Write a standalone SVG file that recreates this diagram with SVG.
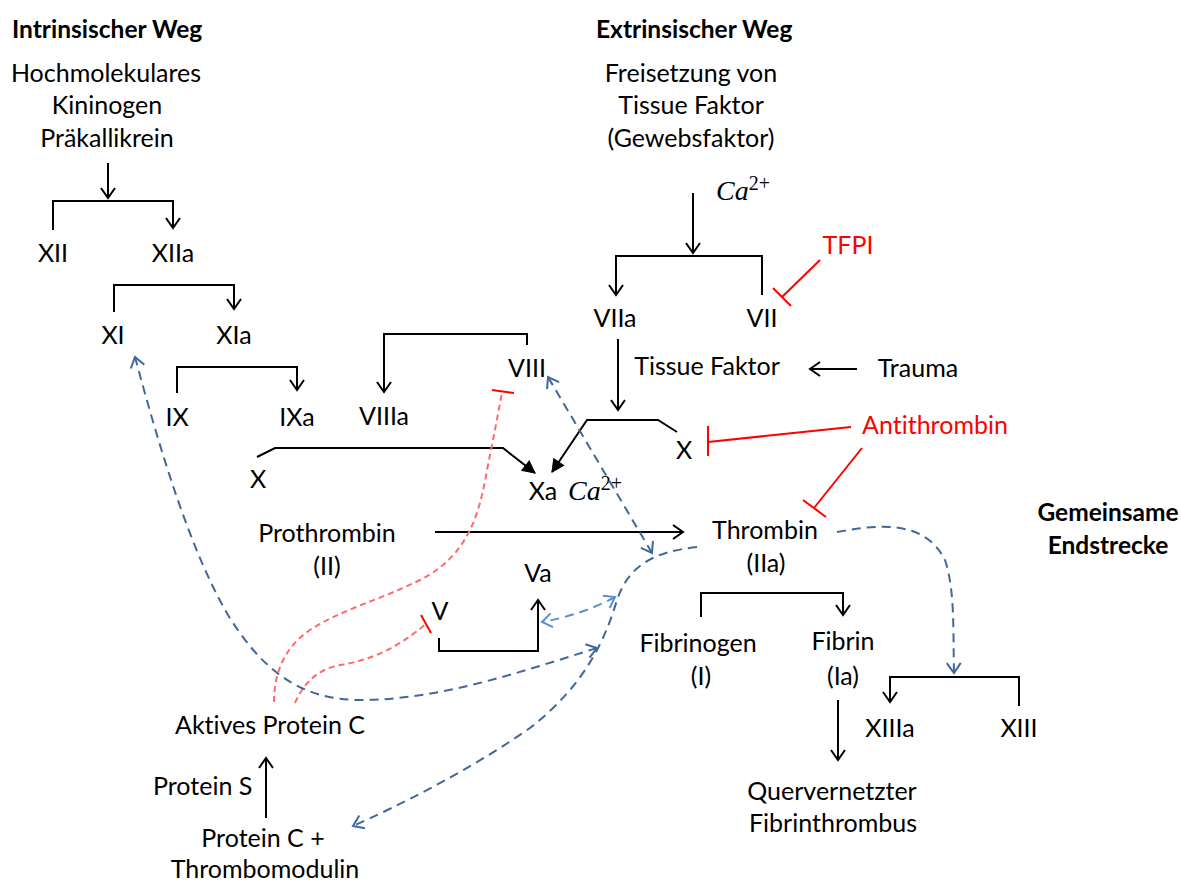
<svg xmlns="http://www.w3.org/2000/svg" width="1181" height="882" viewBox="0 0 1181 882">
<style>
text{font-family:Lato,"Open Sans","Liberation Sans",sans-serif;font-size:25px;fill:#000;font-variant-ligatures:none}
.c{text-anchor:middle}
.h{font-weight:bold;font-size:24.5px}
.red{fill:#ff0000}
.ca{font-family:"Liberation Serif","DejaVu Serif",serif;font-style:italic;font-size:28px}
.sup{font-family:"Liberation Serif","DejaVu Serif",serif;font-style:normal;font-size:20px}
.k{fill:none;stroke:#000;stroke-width:2}
.inh{fill:none;stroke:#ff0000;stroke-width:2}
.rd{fill:none;stroke:#ff6b6b;stroke-width:2;stroke-dasharray:6 4}
.bd{fill:none;stroke:#41689a;stroke-width:2;stroke-dasharray:9 6}
.lb{fill:none;stroke:#5b8fd0;stroke-width:2;stroke-dasharray:9 6}
</style>
<defs>
<marker id="ak" viewBox="-13 -9 15 18" refX="0" refY="0" markerWidth="15" markerHeight="18" markerUnits="userSpaceOnUse" orient="auto"><path d="M-10,-7 L0,0 L-10,7" fill="none" stroke="#000" stroke-width="2"/></marker>
<marker id="akf" viewBox="-13 -9 15 18" refX="0" refY="0" markerWidth="15" markerHeight="18" markerUnits="userSpaceOnUse" orient="auto"><path d="M-12,-6 L0,0 L-12,6 Z" fill="#000" stroke="#000" stroke-width="1"/></marker>
<marker id="ab" viewBox="-13 -9 15 18" refX="0" refY="0" markerWidth="15" markerHeight="18" markerUnits="userSpaceOnUse" orient="auto-start-reverse"><path d="M-10,-7 L0,0 L-10,7" fill="none" stroke="#41689a" stroke-width="2"/></marker>
<marker id="alb" viewBox="-13 -9 15 18" refX="0" refY="0" markerWidth="15" markerHeight="18" markerUnits="userSpaceOnUse" orient="auto-start-reverse"><path d="M-10,-7 L0,0 L-10,7" fill="none" stroke="#5b8fd0" stroke-width="2"/></marker>
</defs>

<g id="headings">
<text class="h" x="12" y="38">Intrinsischer Weg</text>
<text class="h" x="596" y="38">Extrinsischer Weg</text>
<text class="h c" x="1108" y="521">Gemeinsame</text>
<text class="h c" x="1108" y="554">Endstrecke</text>
</g>

<g id="hk"><text class="c" x="106" y="82">Hochmolekulares</text><text class="c" x="107" y="114">Kininogen</text><text class="c" x="107" y="147">Präkallikrein</text></g>
<g id="xii"><text class="c" x="53" y="262">XII</text></g>
<g id="xiia"><text class="c" x="173" y="262">XIIa</text></g>
<g id="xi"><text class="c" x="113" y="344">XI</text></g>
<g id="xia"><text class="c" x="234" y="344">XIa</text></g>
<g id="ix"><text class="c" x="177" y="426">IX</text></g>
<g id="ixa"><text class="c" x="297" y="426">IXa</text></g>
<g id="viii"><text class="c" x="527" y="377">VIII</text></g>
<g id="viiia"><text class="c" x="384" y="425">VIIIa</text></g>
<g id="x1"><text class="c" x="258" y="488">X</text></g>
<g id="xa"><text class="c" x="543" y="500">Xa</text><text class="ca" x="568" y="500">Ca<tspan class="sup" dy="-10">2+</tspan></text></g>
<g id="tf"><text class="c" x="691" y="82">Freisetzung von</text><text class="c" x="691" y="114">Tissue Faktor</text><text class="c" x="691" y="147">(Gewebsfaktor)</text></g>
<g id="ca1"><text class="ca" x="716" y="200">Ca<tspan class="sup" dy="-10">2+</tspan></text></g>
<g id="viia"><text class="c" x="615" y="327">VIIa</text></g>
<g id="vii"><text class="c" x="762" y="327">VII</text></g>
<g id="tfpi"><text class="red c" x="848" y="254">TFPI</text></g>
<g id="tissue"><text class="c" x="707" y="375">Tissue Faktor</text></g>
<g id="trauma"><text class="c" x="918" y="377">Trauma</text></g>
<g id="x2"><text class="c" x="684" y="459">X</text></g>
<g id="at"><text class="red c" x="935" y="434">Antithrombin</text></g>
<g id="prothrombin"><text class="c" x="327" y="542">Prothrombin</text><text class="c" x="327" y="575">(II)</text></g>
<g id="thrombin"><text class="c" x="765" y="539">Thrombin</text><text class="c" x="766" y="572">(IIa)</text></g>
<g id="va"><text class="c" x="538" y="582">Va</text></g>
<g id="v"><text class="c" x="440" y="620">V</text></g>
<g id="fibrinogen"><text class="c" x="698" y="652">Fibrinogen</text><text class="c" x="701" y="685">(I)</text></g>
<g id="fibrin"><text class="c" x="843" y="650">Fibrin</text><text class="c" x="843" y="685">(Ia)</text></g>
<g id="xiiia"><text class="c" x="890" y="737">XIIIa</text></g>
<g id="xiii"><text class="c" x="1019" y="737">XIII</text></g>
<g id="fibrinthrombus"><text class="c" x="832" y="800">Quervernetzter</text><text class="c" x="833" y="832">Fibrinthrombus</text></g>
<g id="apc"><text class="c" x="270" y="734">Aktives Protein C</text></g>
<g id="ps"><text x="153" y="795">Protein S</text></g>
<g id="pc"><text class="c" x="263" y="847">Protein C +</text><text class="c" x="265" y="878">Thrombomodulin</text></g>

<g id="connectors">
<line class="k" x1="108" y1="163" x2="108" y2="198" marker-end="url(#ak)"/>
<path class="k" d="M53,230 V201 H173 V228" marker-end="url(#ak)"/>
<path class="k" d="M114,312 V285 H234 V309" marker-end="url(#ak)"/>
<path class="k" d="M177,393 V367 H297 V390" marker-end="url(#ak)"/>
<path class="k" d="M527,345 V334 H384 V392" marker-end="url(#ak)"/>
<path class="k" d="M257,457 L275,448 H503 L535,473" marker-end="url(#akf)"/>
<line class="k" x1="693" y1="193" x2="693" y2="253" marker-end="url(#ak)"/>
<path class="k" d="M762,295 V256 H616 V295" marker-end="url(#ak)"/>
<line class="k" x1="618" y1="339" x2="618" y2="410" marker-end="url(#ak)"/>
<line class="k" x1="857" y1="369" x2="810" y2="369" marker-end="url(#ak)"/>
<path class="k" d="M677,432 L658,420 H587 L552,472" marker-end="url(#akf)"/>
<line class="k" x1="435" y1="532" x2="683" y2="532" marker-end="url(#ak)"/>
<path class="k" d="M701,617 V593 H843 V615" marker-end="url(#ak)"/>
<line class="k" x1="838" y1="700" x2="838" y2="760" marker-end="url(#ak)"/>
<path class="k" d="M1019,706 V677 H890 V702" marker-end="url(#ak)"/>
<path class="k" d="M439,638 V651 H538 V600" marker-end="url(#ak)"/>
<line class="k" x1="266" y1="818" x2="266" y2="758" marker-end="url(#ak)"/>
<line class="inh" x1="820" y1="260" x2="782" y2="297"/>
<line class="inh" x1="773" y1="288" x2="791" y2="306"/>
<line class="inh" x1="851" y1="427" x2="708" y2="442"/>
<line class="inh" x1="708" y1="426" x2="708" y2="456"/>
<line class="inh" x1="862" y1="448" x2="814" y2="508"/>
<line class="inh" x1="803" y1="500" x2="826" y2="517"/>
<path class="rd" d="M274,702 C274,680 280,650 310,630 C340,610 380,600 420,580 C470,555 480,510 487,470 C493,440 498,415 502,392"/>
<line class="inh" x1="492" y1="390" x2="514" y2="393"/>
<path class="rd" d="M295,703 C303,685 315,670 340,665 C370,660 395,650 427,623"/>
<line class="inh" x1="421" y1="615" x2="431" y2="633"/>
<path class="bd" d="M837,532 C880,524 925,520 945,560 C955,590 953,630 954,673" marker-end="url(#ab)"/>
<path class="bd" d="M697,547 C650,552 628,568 617,600 C605,640 585,685 530,728 C470,770 400,805 353,826" marker-end="url(#ab)"/>
<line class="bd" x1="652" y1="553" x2="548" y2="377" marker-start="url(#ab)" marker-end="url(#ab)"/>
<path class="lb" d="M615,597 C595,608 570,617 542,622" marker-start="url(#alb)" marker-end="url(#alb)"/>
<path class="bd" d="M597,648 C520,672 440,700 360,700 C300,700 262,670 228,615 C190,550 160,450 135,357" marker-start="url(#ab)" marker-end="url(#ab)"/>
</g>
</svg>
